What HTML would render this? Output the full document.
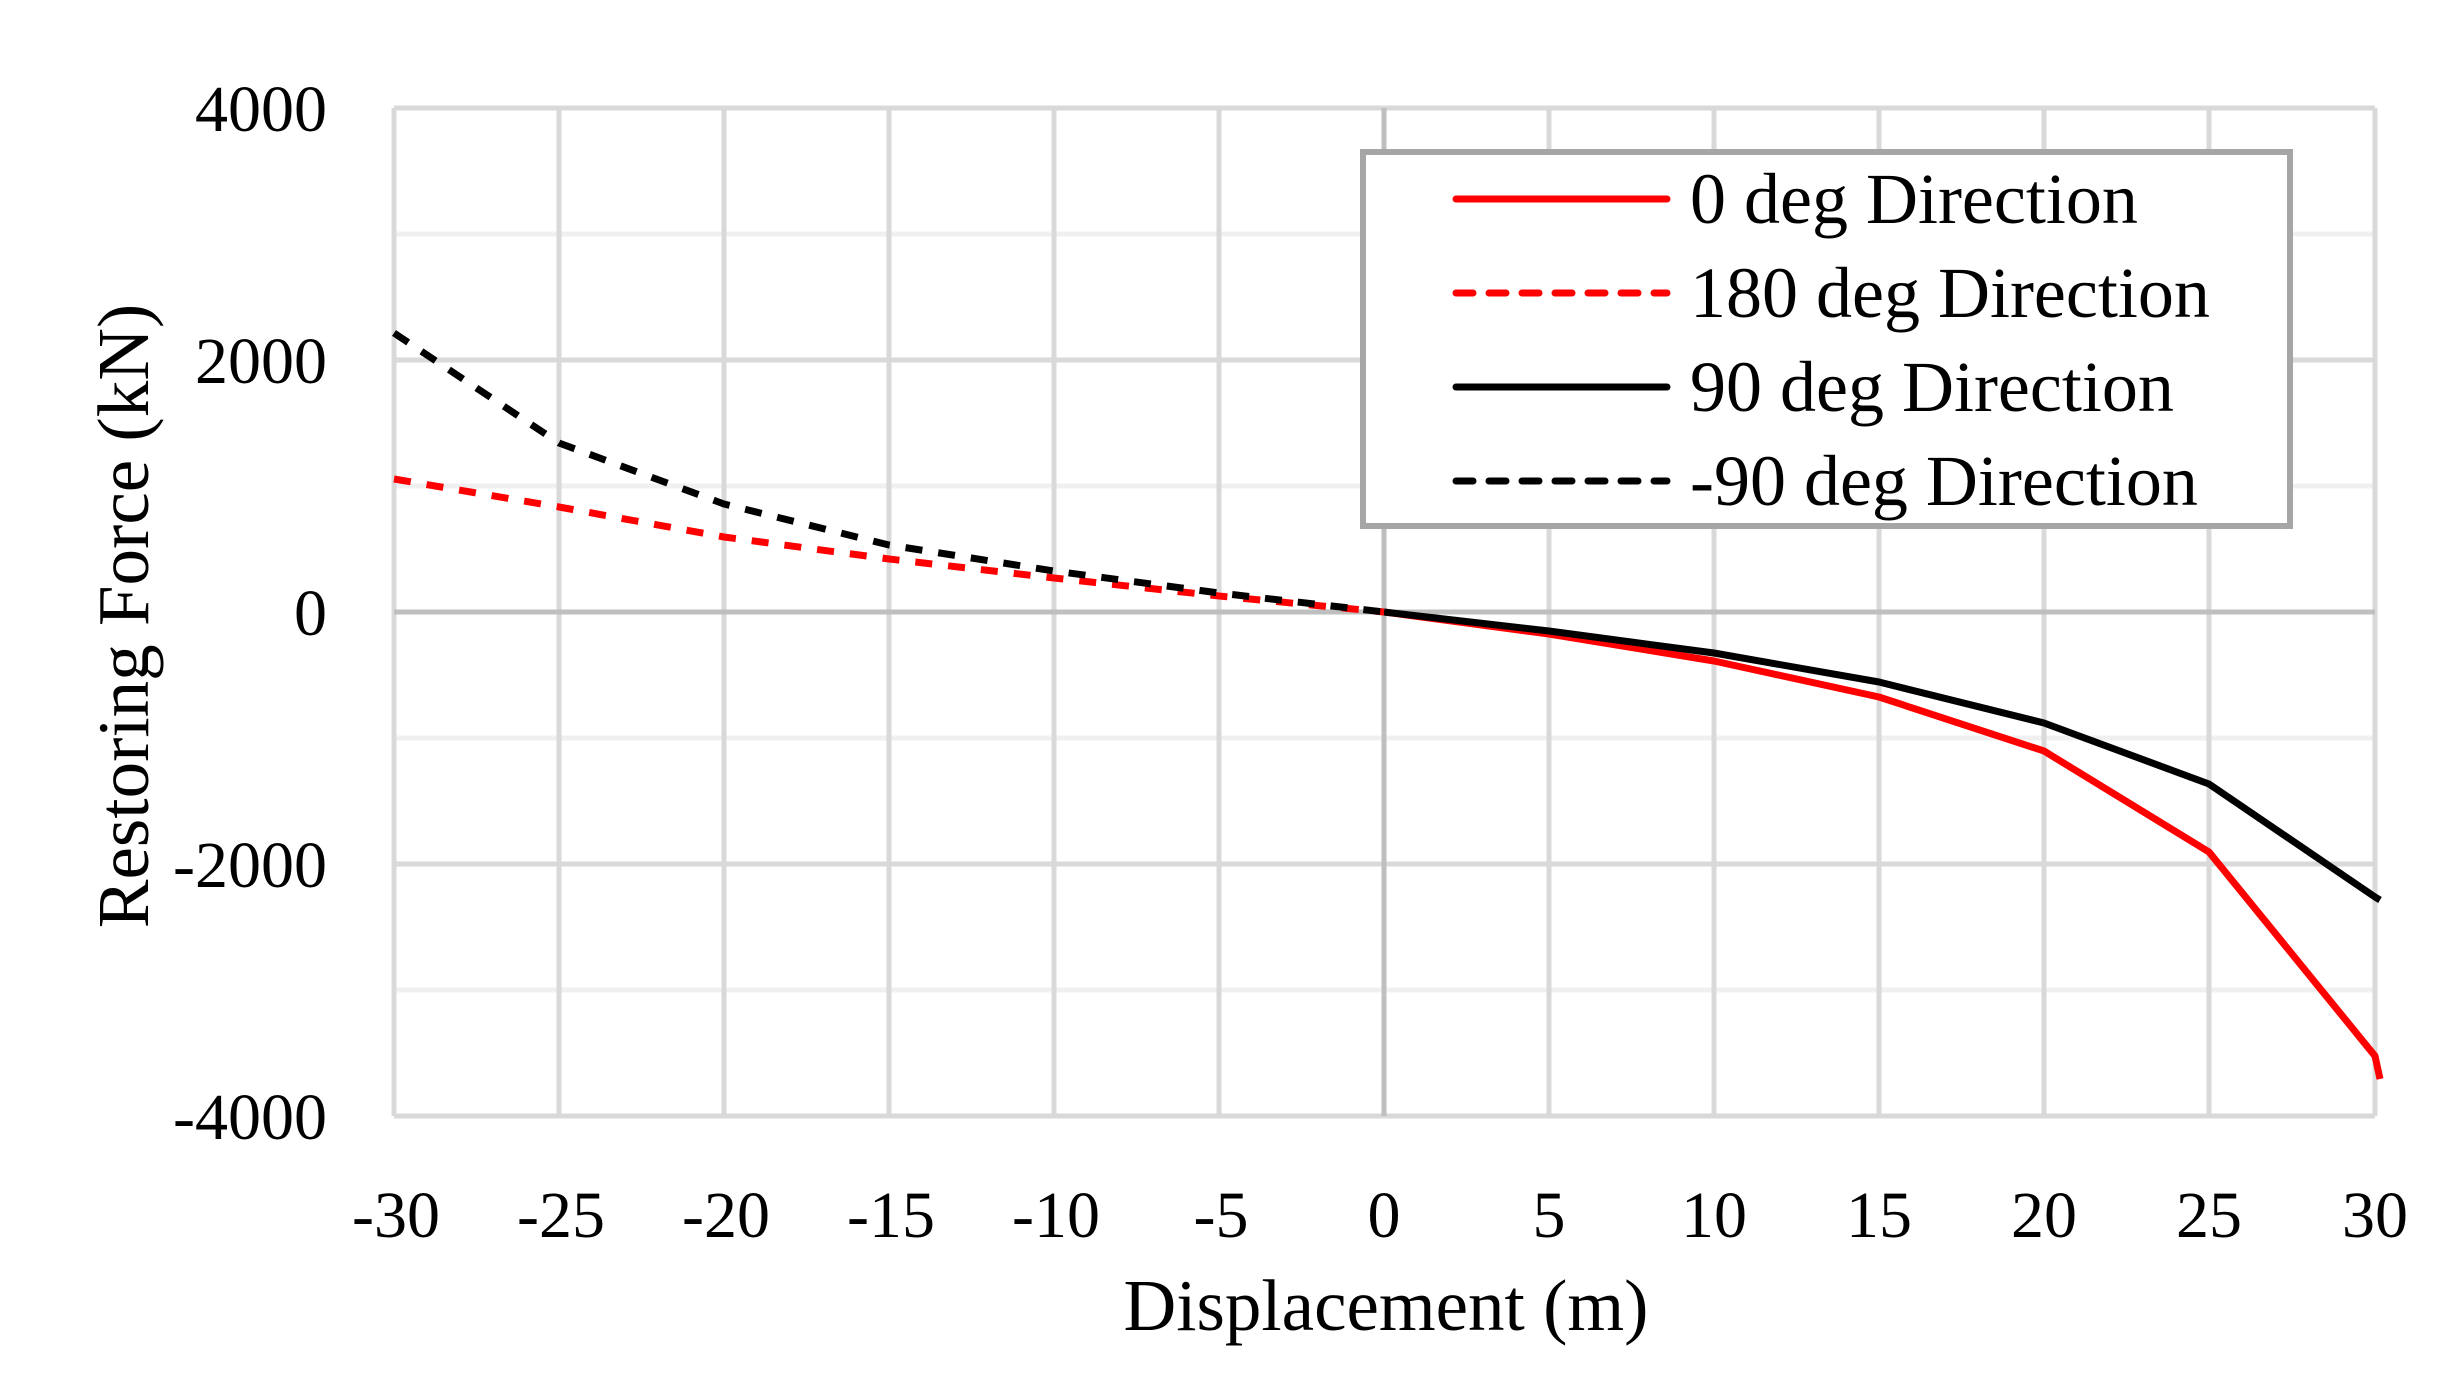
<!DOCTYPE html>
<html><head><meta charset="utf-8"><style>
html,body{margin:0;padding:0;background:#fff;}
svg{display:block;font-family:"Liberation Serif",serif;}
</style></head><body>
<svg width="2452" height="1400" viewBox="0 0 2452 1400" xmlns="http://www.w3.org/2000/svg">
<rect width="2452" height="1400" fill="#fff"/>
<g stroke="#f0f0f0" stroke-width="5">
<line x1="394" y1="234" x2="2375" y2="234"/>
<line x1="394" y1="486" x2="2375" y2="486"/>
<line x1="394" y1="738" x2="2375" y2="738"/>
<line x1="394" y1="990" x2="2375" y2="990"/>
</g>
<g stroke="#d9d9d9" stroke-width="5">
<line x1="394" y1="108" x2="2375" y2="108"/>
<line x1="394" y1="360" x2="2375" y2="360"/>
<line x1="394" y1="864" x2="2375" y2="864"/>
<line x1="394" y1="1116" x2="2375" y2="1116"/>
<line x1="394" y1="108" x2="394" y2="1116"/>
<line x1="559" y1="108" x2="559" y2="1116"/>
<line x1="724" y1="108" x2="724" y2="1116"/>
<line x1="889" y1="108" x2="889" y2="1116"/>
<line x1="1054" y1="108" x2="1054" y2="1116"/>
<line x1="1219" y1="108" x2="1219" y2="1116"/>
<line x1="1549" y1="108" x2="1549" y2="1116"/>
<line x1="1714" y1="108" x2="1714" y2="1116"/>
<line x1="1879" y1="108" x2="1879" y2="1116"/>
<line x1="2044" y1="108" x2="2044" y2="1116"/>
<line x1="2209" y1="108" x2="2209" y2="1116"/>
<line x1="2375" y1="108" x2="2375" y2="1116"/>
</g>
<g stroke="#bfbfbf" stroke-width="5">
<line x1="394" y1="612" x2="2375" y2="612"/>
<line x1="1384" y1="108" x2="1384" y2="1116"/>
</g>
<g fill="none" stroke-width="7" stroke-linejoin="round">
<polyline stroke="#ff0000" points="1384,612 1549,634 1714,661 1879,697 2044,751 2209,852 2375,1056 2380,1079"/>
<polyline stroke="#000" points="1384,612 1549,631 1714,653 1879,682 2044,723 2209,784 2375,897 2380,900"/>
<polyline stroke="#ff0000" stroke-dasharray="17 16" points="394,479 559,507 724,537 889,559 1054,578 1219,596 1384,612"/>
<polyline stroke="#000" stroke-dasharray="17 16" points="394,333 559,443 724,504 889,545 1054,571 1219,593 1384,612"/>
</g>
<rect x="1363" y="152" width="927" height="374" fill="#fff" stroke="#a6a6a6" stroke-width="6"/>
<g stroke-width="7" stroke-linecap="round">
<line x1="1456" y1="199" x2="1667" y2="199" stroke="#ff0000"/>
<line x1="1456" y1="293" x2="1667" y2="293" stroke="#ff0000" stroke-dasharray="17 16"/>
<line x1="1456" y1="387" x2="1667" y2="387" stroke="#000"/>
<line x1="1456" y1="481" x2="1667" y2="481" stroke="#000" stroke-dasharray="17 16"/>
</g>
<g font-size="72" fill="#000">
<text x="1690" y="223">0 deg Direction</text>
<text x="1690" y="317">180 deg Direction</text>
<text x="1690" y="411">90 deg Direction</text>
<text x="1690" y="505">-90 deg Direction</text>
</g>
<g font-size="66" fill="#000" text-anchor="end">
<text x="327" y="131">4000</text>
<text x="327" y="383">2000</text>
<text x="327" y="635">0</text>
<text x="327" y="887">-2000</text>
<text x="327" y="1139">-4000</text>
</g>
<g font-size="66" fill="#000" text-anchor="middle">
<text x="396" y="1237">-30</text>
<text x="561" y="1237">-25</text>
<text x="726" y="1237">-20</text>
<text x="891" y="1237">-15</text>
<text x="1056" y="1237">-10</text>
<text x="1221" y="1237">-5</text>
<text x="1384" y="1237">0</text>
<text x="1549" y="1237">5</text>
<text x="1714" y="1237">10</text>
<text x="1879" y="1237">15</text>
<text x="2044" y="1237">20</text>
<text x="2209" y="1237">25</text>
<text x="2375" y="1237">30</text>
</g>
<g font-size="73" fill="#000" text-anchor="middle">
<text x="1386" y="1330">Displacement (m)</text>
<text x="0" y="0" transform="translate(148,616) rotate(-90)">Restoring Force (kN)</text>
</g>
</svg>
</body></html>
